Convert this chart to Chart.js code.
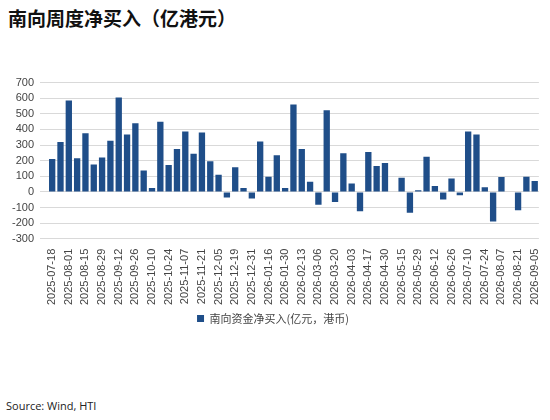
<!DOCTYPE html>
<html><head><meta charset="utf-8">
<script src="https://cdn.jsdelivr.net/npm/chart.js@4"></script>
<style>
body{margin:0;width:550px;height:420px;background:#fff;position:relative;overflow:hidden;font-family:"Noto Sans CJK SC",sans-serif}
#title{position:absolute;left:8px;top:4px;font-size:19px;font-weight:bold;color:#111}
#wrap{position:absolute;left:0;top:70px;width:550px;height:264px}
#src{position:absolute;left:6px;top:398px;font-family:"Open Sans",sans-serif;font-size:11px;color:#222}
</style></head><body>
<div id="title">南向周度净买入（亿港元）</div>
<div id="wrap"><canvas id="c"></canvas></div>
<div id="src">Source: Wind, HTI</div>
<script>
// 刻度标签（每两周显示一次）
const tickLabels = ['2025-07-18','2025-08-01','2025-08-15','2025-08-29','2025-09-12','2025-09-26','2025-10-10','2025-10-24','2025-11-07','2025-11-21','2025-12-05','2025-12-19','2025-12-31','2026-01-16','2026-01-30','2026-02-13','2026-03-06','2026-03-20','2026-04-03','2026-04-17','2026-04-30','2026-05-15','2026-05-29','2026-06-12','2026-06-26','2026-07-10','2026-07-24','2026-08-07','2026-08-21','2026-09-05'];
// 周度净买入
const netBuy = [210,320,586,216,376,176,220,328,605,368,439,137,25,450,172,275,387,244,380,197,109,-36,158,25,-42,323,97,235,25,559,275,65,-82,523,-65,248,53,-124,256,166,185,0,90,-134,10,225,38,-48,86,-21,387,368,29,-189,95,0,-118,97,69];
const yTicks = [700,600,500,400,300,200,100,0,-100,-200,-300];

const labels = netBuy.map((v, i) => i % 2 === 0 ? tickLabels[i / 2] : '');

new Chart(document.getElementById('c'), {
    type: 'bar',
    data: {
        labels: labels,
        datasets: [{
            label: '南向资金净买入(亿元，港币)',
            data: netBuy,
            backgroundColor: '#1f4e89',
            categoryPercentage: 0.8,
            barPercentage: 0.95
        }]
    },
    options: {
        animation: false,
        maintainAspectRatio: false,
        layout: { padding: { left: 6, right: 10, top: 4, bottom: 0 } },
        scales: {
            x: {
                grid: { display: false },
                border: { display: false },
                ticks: {
                    autoSkip: false, maxRotation: 90, minRotation: 90,
                    color: '#444', font: { size: 11, family: 'Liberation Sans' }, padding: 2,
                    callback: function(v, i) { return labels[i]; }
                }
            },
            y: {
                min: -300, max: 700,
                afterBuildTicks: axis => { axis.ticks = yTicks.map(v => ({ value: v })); },
                grid: { color: '#d9d9d9' },
                border: { display: false },
                ticks: { autoSkip: false, color: '#444', font: { size: 11, family: 'Liberation Sans' }, padding: 6 }
            }
        },
        plugins: {
            legend: {
                position: 'bottom',
                labels: { boxWidth: 7, boxHeight: 7, color: '#444', font: { size: 11, family: 'Noto Sans CJK SC' }, padding: 6 }
            },
            tooltip: { enabled: false }
        }
    }
});
</script>
</body></html>
